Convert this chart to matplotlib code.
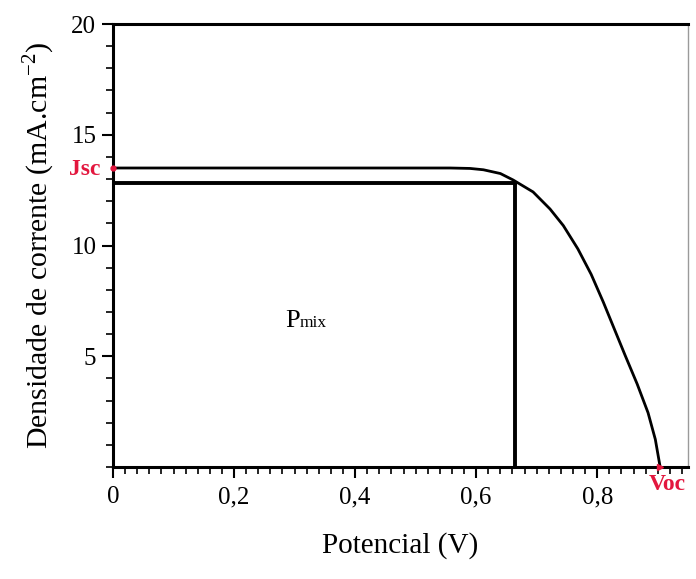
import matplotlib
matplotlib.use("Agg")
import matplotlib.pyplot as plt
from matplotlib.ticker import MultipleLocator, FuncFormatter

plt.rcParams["font.family"] = ["Liberation Serif", "DejaVu Serif"]
plt.rcParams["mathtext.fontset"] = "custom"
plt.rcParams["mathtext.rm"] = "Liberation Serif"

# J-V curve
voltage = [0.0, 0.20, 0.40, 0.557, 0.590, 0.612, 0.640, 0.661, 0.694, 0.722,
           0.744, 0.768, 0.790, 0.810, 0.828, 0.846, 0.866, 0.884, 0.896, 0.904]
current = [13.5, 13.5, 13.5, 13.5, 13.48, 13.42, 13.25, 12.96, 12.42, 11.65,
           10.90, 9.85, 8.70, 7.45, 6.25, 5.05, 3.75, 2.45, 1.25, 0.0]

jsc = 13.5
voc = 0.904
v_mp = 0.664
j_mp = 12.82

red = "#e3173e"

fig = plt.figure(figsize=(6.96, 5.79), dpi=100)
ax = fig.add_axes([0.1624, 0.1934, 0.8261, 0.7651])

ax.plot(voltage, current, color="black", lw=2.0)
ax.plot([0, v_mp], [j_mp, j_mp], color="black", lw=2.8)
ax.plot([v_mp, v_mp], [0, j_mp], color="black", lw=2.8)

ax.plot([0], [jsc], "o", color=red, ms=3.5, clip_on=False, zorder=5)
ax.plot([voc], [0], ">", color=red, ms=5, clip_on=False, zorder=5)

ax.text(-0.021, jsc - 0.05, "Jsc", color=red, fontweight="bold", fontsize=17,
        ha="right", va="center")
ax.text(voc + 0.012, -0.3, "Voc", color=red, fontweight="bold", fontsize=17,
        ha="center", va="top")

ax.text(0.309, 6.32, "P", fontsize=19, ha="right", va="baseline")
ax.text(0.309, 6.32, "mix", fontsize=12.5, ha="left", va="baseline")

ax.set_xlim(0, 0.95)
ax.set_ylim(0, 20)

ax.xaxis.set_major_locator(MultipleLocator(0.2))
ax.xaxis.set_minor_locator(MultipleLocator(0.02))
ax.xaxis.set_major_formatter(FuncFormatter(lambda v, p: ("%g" % round(v, 2)).replace(".", ",")))
ax.set_yticks([5, 10, 15, 20])
ax.yaxis.set_minor_locator(MultipleLocator(1))

ax.tick_params(axis="both", which="major", direction="out", length=8, width=1.5,
               labelsize=18, colors="black")
ax.tick_params(axis="both", which="minor", direction="out", length=5, width=1.2)
ax.tick_params(axis="x", which="major", pad=6)
ax.tick_params(axis="y", which="major", pad=4)

for s in ["left", "bottom", "top"]:
    ax.spines[s].set_linewidth(2.2)
ax.spines["right"].set_linewidth(1.0)
ax.spines["right"].set_color("#9a9a9a")

ax.set_xlabel("Potencial (V)", fontsize=21, labelpad=17)
ax.set_ylabel("Densidade de corrente (mA.cm$^{-2}$)", fontsize=21.5, labelpad=10)

fig.savefig("out.png", dpi=100)
